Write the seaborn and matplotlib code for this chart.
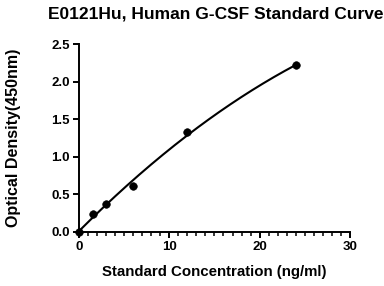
import numpy as np
import pandas as pd
import seaborn as sns
import matplotlib.pyplot as plt
from matplotlib.ticker import MultipleLocator, NullLocator

# Standard curve points
conc = [0, 1.5, 3, 6, 12, 24]
od = [0.0, 0.235, 0.37, 0.615, 1.33, 2.215]
title = 'E0121Hu, Human G-CSF Standard Curve'

sns.set_style('ticks')
plt.rcParams['font.family'] = ['Liberation Sans', 'DejaVu Sans']
plt.rcParams['font.weight'] = 'bold'
plt.rcParams.update({
    'text.color': 'black', 'axes.labelcolor': 'black', 'axes.edgecolor': 'black',
    'xtick.color': 'black', 'ytick.color': 'black',
})

df = pd.DataFrame({'conc': conc, 'od': od})

# smooth fitted curve (quadratic through the standards)
coef = np.polyfit(conc, od, 2)
xs = np.linspace(0, max(conc), 200)
fit = pd.DataFrame({'conc': xs, 'od': np.polyval(coef, xs)})

fig = plt.figure(figsize=(3.84, 2.86), dpi=100)
ax = fig.add_axes([0.206, 0.189, 0.705, 0.657])

sns.lineplot(data=fit, x='conc', y='od', color='black', linewidth=1.5, ax=ax)
sns.scatterplot(data=df, x='conc', y='od', color='black', s=30, edgecolor='black',
                zorder=5, clip_on=False, ax=ax)
sns.despine(ax=ax)

ax.set_xlim(0, 30)
ax.set_ylim(0, 2.5)
ax.xaxis.set_major_locator(MultipleLocator(10))
ax.xaxis.set_minor_locator(MultipleLocator(1))
ax.yaxis.set_major_locator(MultipleLocator(0.5))
ax.yaxis.set_minor_locator(NullLocator())
ax.yaxis.set_major_formatter(plt.FormatStrFormatter('%.1f'))
ax.tick_params(axis='both', which='major', labelsize=9.5, length=4.5, width=1.4,
               color='black', labelcolor='black', pad=2)
ax.tick_params(axis='x', which='minor', bottom=True, length=3, width=1.1, color='black')
for lbl in ax.get_xticklabels() + ax.get_yticklabels():
    lbl.set_fontweight('bold')
for s in ['left', 'bottom']:
    ax.spines[s].set_linewidth(1.4)

ax.set_xlabel('Standard Concentration (ng/ml)', fontsize=10.8, fontweight='bold')
ax.set_ylabel('Optical Density(450nm)', fontsize=11.5, fontweight='bold')
ax.xaxis.set_label_coords(0.5, -0.176)
ax.yaxis.set_label_coords(-0.214, 0.5)
fig.text(0.561, 0.951, title, ha='center', va='center', fontsize=12.5, fontweight='bold')

fig.savefig('out.png', dpi=100)
